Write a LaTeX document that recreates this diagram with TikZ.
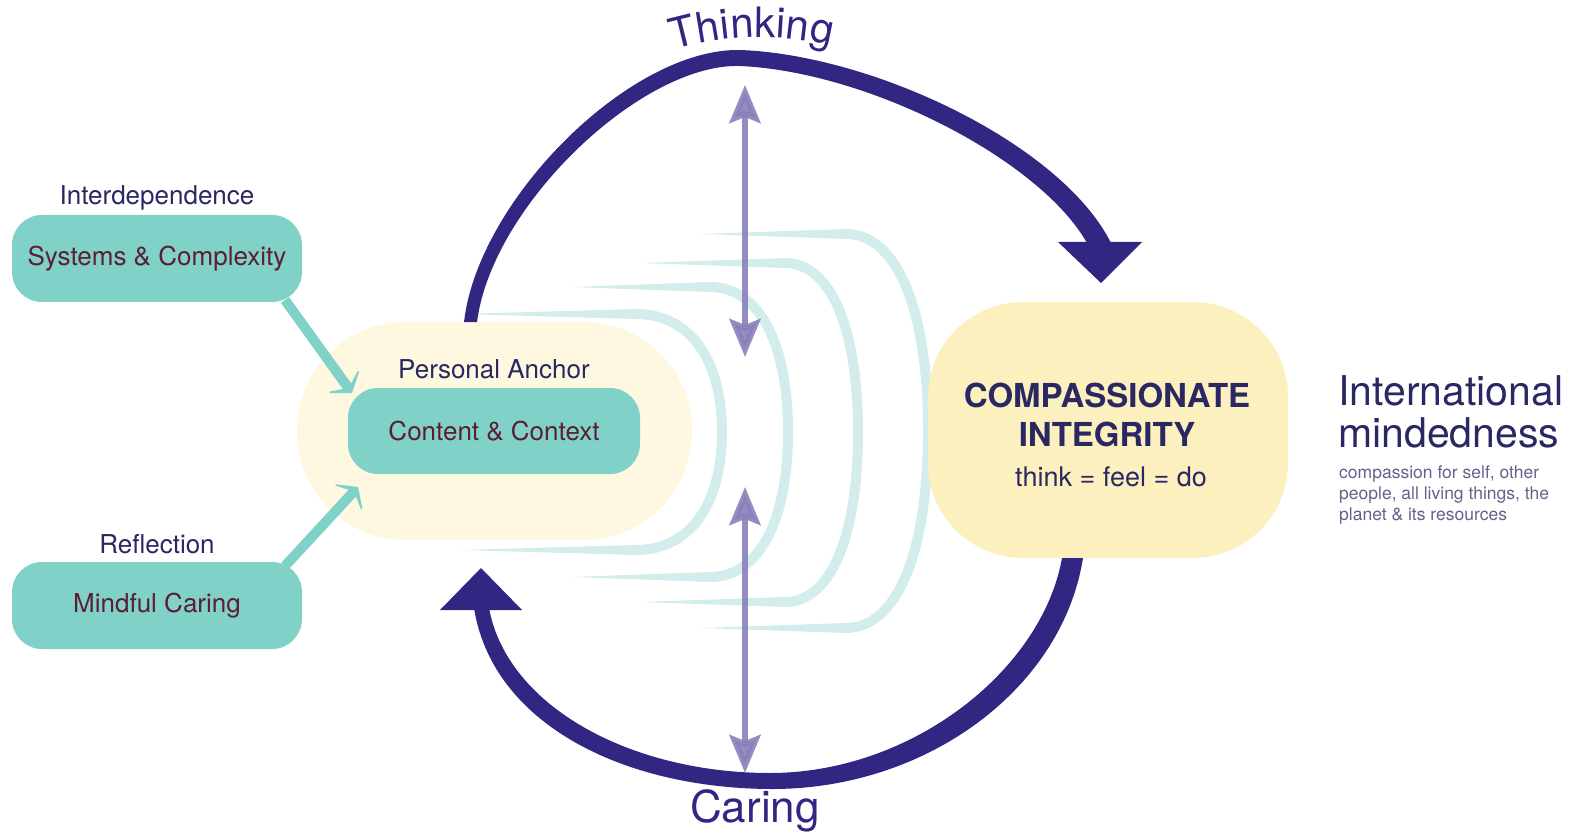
\documentclass[tikz,border=0pt]{standalone}
\usepackage{fontspec}
\setmainfont{TeX Gyre Heros}
\usetikzlibrary{arrows.meta,decorations.text}
\definecolor{navy}{RGB}{49,39,131}
\definecolor{ink}{RGB}{42,40,98}
\definecolor{wine}{RGB}{92,30,52}
\definecolor{aqua}{RGB}{128,209,200}
\definecolor{cream}{RGB}{254,248,225}
\definecolor{butter}{RGB}{252,240,190}
\definecolor{lilac}{RGB}{137,128,186}
\definecolor{mist}{RGB}{210,237,235}
\definecolor{greyink}{RGB}{100,97,140}
\tikzset{
  tealbox/.style={fill=aqua, rounded corners=30pt, minimum width=290pt, minimum height=87pt,
    text=wine, font=\fontsize{26}{31}\selectfont},
  lbl/.style={text=ink, font=\fontsize{26}{31}\selectfont, anchor=base},
  link/.style={aqua, line width=10pt, -{Stealth[length=18pt,width=50pt,inset=12pt]}},
  duo/.style={lilac, line width=6pt, opacity=0.9,
    {Stealth[length=38pt,width=31pt,inset=6pt]}-{Stealth[length=38pt,width=31pt,inset=6pt]}},
  wave/.style={mist, line width=10pt},
}
\begin{document}
\begin{tikzpicture}[x=1pt,y=-1pt]
\useasboundingbox (0,0) rectangle (1574,834);

\foreach \ws/\wc/\wr/\wt/\wb in {461/636/722/314/550, 572/710/788/287/577, 641/785/858/263/602, 701/846/928/234/628}{
  \pgfmathsetmacro\wm{(\wt+\wb)/2}
  \fill[mist] (\ws,\wt) -- (\wc,\wt-5) -- (\wc,\wt+5) -- cycle;
  \fill[mist] (\ws,\wb) -- (\wc,\wb-5) -- (\wc,\wb+5) -- cycle;
  \draw[wave] (\wc,\wt) .. controls ({\wc+0.62*(\wr-\wc)},\wt) and (\wr,{\wm-0.62*(\wm-\wt)}) .. (\wr,\wm)
    .. controls (\wr,{\wm+0.62*(\wb-\wm)}) and ({\wc+0.62*(\wr-\wc)},\wb) .. (\wc,\wb);
}

\node[fill=cream, rounded corners=108pt, minimum width=395pt, minimum height=218pt] (anchor) at (494.5,431) {};
\node[tealbox, minimum width=292pt, minimum height=86pt] (content) at (494,431) {Content \& Context};
\node[lbl] (pa) at (494,378) {Personal Anchor};

\node[tealbox] (sys) at (157,258.5) {Systems \& Complexity};
\node[lbl] (inter) at (157,205) {Interdependence};
\node[tealbox] (mind) at (157,605.5) {Mindful Caring};
\node[lbl] (refl) at (157,553) {Reflection};

\node[fill=butter, rounded corners=95pt, minimum width=360pt, minimum height=256pt] (ci) at (1108,430) {};
\node[anchor=base, text=ink, font=\bfseries\fontsize{33}{38}\selectfont] (ci1) at (1107,407) {COMPASSIONATE};
\node[anchor=base, text=ink, font=\bfseries\fontsize{33}{38}\selectfont] (ci2) at (1107,446) {INTEGRITY};
\node[anchor=base, text=ink, font=\fontsize{27}{32}\selectfont] (ci3) at (1111,486) {think = feel = do};

\node[anchor=base west, inner sep=0pt, text=ink, font=\fontsize{41}{44}\selectfont] (im1) at (1338,405) {International};
\node[anchor=base west, inner sep=0pt, text=ink, font=\fontsize{41}{44}\selectfont] (im2) at (1338,447) {mindedness};
\node[anchor=north west, inner sep=0pt, align=left, text=greyink, font=\fontsize{17.5}{21}\selectfont] (im3) at (1339,465)
  {compassion for self, other\\people, all living things, the\\planet \& its resources};

\coordinate (s1) at (285,300);
\coordinate (s2) at (352,393);
\coordinate (m1) at (285,566);
\coordinate (m2) at (358,487);
\draw[link] (s1) -- (s2);
\draw[link] (m1) -- (m2);

\fill[navy] (464,322) .. controls (478,200) and (630,48) .. (740,50) .. controls (875,55) and (1062,145) .. (1111,243)
  -- (1087,243) .. controls (1040,160) and (870,72) .. (740,66) .. controls (642,63) and (492,205) .. (477,322) -- cycle;
\fill[navy] (1058,242) -- (1142,242) -- (1101,283) -- cycle;

\fill[navy] (1083,558) .. controls (1062,690) and (925,790) .. (770,789) .. controls (620,788) and (492,722) .. (474,608)
  -- (489,608) .. controls (507,706) and (630,773) .. (770,773) .. controls (912,773) and (1042,670) .. (1062,558) -- cycle;
\fill[navy] (440,610) -- (522,610) -- (481,568) -- cycle;

\coordinate (t1) at (745,85);
\coordinate (t2) at (745,357);
\coordinate (b1) at (745,487);
\coordinate (b2) at (745,773);
\draw[duo] (t1) -- (t2);
\draw[duo] (b1) -- (b2);

\path[decorate, decoration={text along path, text align=center,
  text={|\fontsize{42}{42}\selectfont\color{navy}|Thinking}}] (650,58) .. controls (715,33) and (790,30) .. (855,53);
\node[anchor=base, text=navy, font=\fontsize{44}{50}\selectfont] (caring) at (755,822) {Caring};
\end{tikzpicture}
\end{document}
